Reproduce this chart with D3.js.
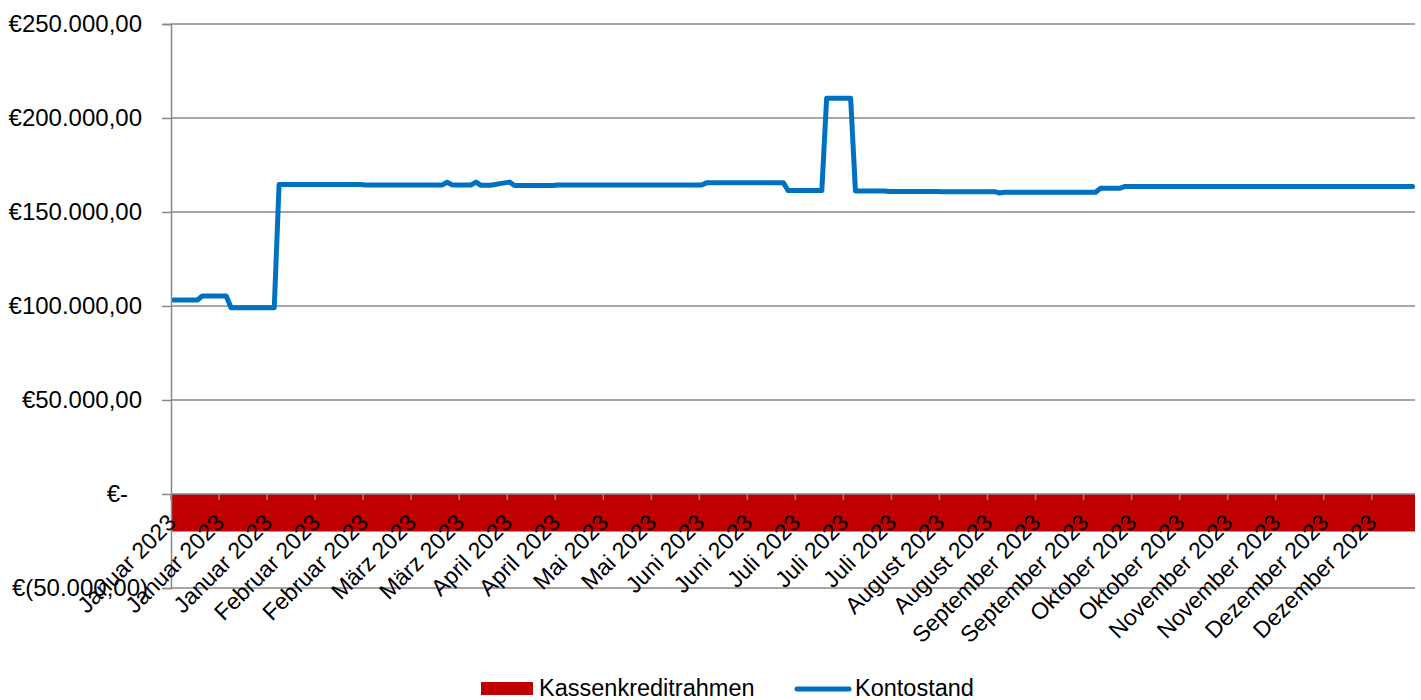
<html>
<head>
    <meta charset="utf-8">
    <title>Kontostand 2023</title>
    <script src="https://cdn.jsdelivr.net/npm/d3@7"></script>
</head>
<style>
    html, body {
        margin: 0;
        padding: 0;
        background: #fff;
    }
    svg text {
        font-family: "Liberation Sans", Arial, sans-serif;
        fill: #000;
    }
</style>
<body>
    <svg width="1421" height="700" id="mainsvg"></svg>
    <script>
        // daily account balance (one row = 10 categories, i.e. one labelled tick)
        const kontostand = [
            103200, 103200, 103200, 103200, 103200, 103200, 105300, 105300, 105300, 105300,
            105300, 105300, 99100, 99100, 99100, 99100, 99100, 99100, 99100, 99100,
            99100, 99100, 164600, 164600, 164600, 164600, 164600, 164600, 164600, 164600,
            164600, 164600, 164600, 164600, 164600, 164600, 164600, 164600, 164600, 164600,
            164400, 164400, 164400, 164400, 164400, 164400, 164400, 164400, 164400, 164400,
            164400, 164400, 164400, 164400, 164400, 164400, 164400, 165800, 164400, 164400,
            164400, 164400, 164400, 165900, 164200, 164200, 164200, 164600, 165100, 165500,
            165900, 164100, 164100, 164100, 164100, 164100, 164100, 164100, 164100, 164100,
            164400, 164400, 164400, 164400, 164400, 164400, 164400, 164400, 164400, 164400,
            164400, 164400, 164400, 164400, 164400, 164400, 164400, 164400, 164400, 164400,
            164400, 164400, 164400, 164400, 164400, 164400, 164400, 164400, 164400, 164400,
            164400, 165500, 165500, 165500, 165500, 165500, 165500, 165500, 165500, 165500,
            165500, 165500, 165500, 165500, 165500, 165500, 165500, 165500, 161400, 161400,
            161400, 161400, 161400, 161400, 161400, 161400, 210500, 210500, 210500, 210500,
            210500, 210500, 161200, 161200, 161200, 161200, 161200, 161200, 161200, 160900,
            160900, 160900, 160900, 160900, 160900, 160900, 160900, 160900, 160900, 160900,
            160800, 160800, 160800, 160800, 160800, 160800, 160800, 160800, 160800, 160800,
            160800, 160800, 160100, 160500, 160500, 160500, 160500, 160500, 160500, 160500,
            160500, 160500, 160500, 160500, 160500, 160500, 160500, 160500, 160500, 160500,
            160500, 160500, 160500, 162600, 162600, 162600, 162600, 162600, 163500, 163500,
            163500, 163500, 163500, 163500, 163500, 163500, 163500, 163500, 163500, 163500,
            163500, 163500, 163500, 163500, 163500, 163500, 163500, 163500, 163500, 163500,
            163500, 163500, 163500, 163500, 163500, 163500, 163500, 163500, 163500, 163500,
            163500, 163500, 163500, 163500, 163500, 163500, 163500, 163500, 163500, 163500,
            163500, 163500, 163500, 163500, 163500, 163500, 163500, 163500, 163500, 163500,
            163500, 163500, 163500, 163500, 163500, 163500, 163500, 163500, 163500
        ];
        // credit line, constant over the year
        const kassenkreditrahmen = -20000;
        const categories = d3.range(kontostand.length);
        const tickEvery = 10;
        const tickLabels = [
            "Januar 2023", "Januar 2023", "Januar 2023", "Februar 2023", "Februar 2023",
            "März 2023", "März 2023", "April 2023", "April 2023", "Mai 2023", "Mai 2023",
            "Juni 2023", "Juni 2023", "Juli 2023", "Juli 2023", "Juli 2023",
            "August 2023", "August 2023", "September 2023", "September 2023",
            "Oktober 2023", "Oktober 2023", "November 2023", "November 2023",
            "Dezember 2023", "Dezember 2023"
        ];
        const yTicks = [-50000, 0, 50000, 100000, 150000, 200000, 250000];
        const seriesNames = ["Kassenkreditrahmen", "Kontostand"];

        const svg = d3.select('#mainsvg');
        const plot = {left: 171, right: 1415, top: 24, bottom: 588};
        const gridColor = '#898989';
        const lineColor = '#0070C0';
        const areaColor = '#C00000';

        const xScale = d3.scaleBand().domain(categories).range([plot.left, plot.right]).paddingInner(0).paddingOuter(0);
        const bw = xScale.bandwidth();
        const yScale = d3.scaleLinear().domain([-50000, 250000]).range([plot.bottom, plot.top]);

        const de = d3.formatLocale({decimal: ",", thousands: ".", grouping: [3], currency: ["€", ""]});
        const fmt = de.format("$,.2f");
        const yFormat = v => v === 0 ? "€-" : (v < 0 ? "€(" + fmt(-v).slice(1) + ")" : fmt(v));

        // gridlines
        svg.append('g').selectAll('line').data(yTicks.filter(v => v !== 0)).join('line')
            .attr('x1', plot.left).attr('x2', plot.right)
            .attr('y1', d => yScale(d)).attr('y2', d => yScale(d))
            .attr('stroke', gridColor).attr('stroke-width', 1.5);

        // credit line as area below zero
        const areaPts = [];
        categories.forEach(i => {
            areaPts.push({x: xScale(i), v: kassenkreditrahmen});
            areaPts.push({x: xScale(i) + bw, v: kassenkreditrahmen});
        });
        const area = d3.area().x(d => d.x).y0(yScale(0)).y1(d => yScale(d.v));
        svg.append('path').datum(areaPts).attr('d', area).attr('fill', areaColor);

        // x axis at zero with tick marks at category boundaries
        const xAxis = svg.append('g');
        xAxis.append('line').attr('x1', plot.left).attr('x2', plot.right)
            .attr('y1', yScale(0)).attr('y2', yScale(0))
            .attr('stroke', gridColor).attr('stroke-width', 1.5);
        const tickCats = categories.filter(i => i % tickEvery === 0);
        xAxis.selectAll('line.tick').data(tickCats).join('line').attr('class', 'tick')
            .attr('x1', d => xScale(d)).attr('x2', d => xScale(d))
            .attr('y1', yScale(0)).attr('y2', yScale(0) + 6)
            .attr('stroke', gridColor).attr('stroke-width', 1.5);

        // balance line
        const line = d3.line().x(i => xScale(i) + bw / 2).y(i => yScale(kontostand[i]));
        svg.append('path').datum(categories).attr('d', line)
            .attr('fill', 'none').attr('stroke', lineColor).attr('stroke-width', 5)
            .attr('stroke-linejoin', 'round').attr('stroke-linecap', 'round');

        // y axis
        const yAxisGroup = svg.append('g').attr('transform', `translate(${plot.left},0)`)
            .call(d3.axisLeft(yScale).tickValues(yTicks).tickFormat(yFormat).tickSize(9).tickPadding(21));
        yAxisGroup.select('.domain').attr('stroke', gridColor).attr('stroke-width', 1.5);
        yAxisGroup.selectAll('.tick line').attr('stroke', gridColor).attr('stroke-width', 1.5);
        yAxisGroup.selectAll('.tick text')
            .attr('font-size', 24)
            .attr('font-family', '"Liberation Sans", Arial, sans-serif')
            .attr('x', d => d === 0 ? -43 : (d < 0 ? -23 : -29));

        // x labels, rotated
        svg.append('g').selectAll('text').data(tickCats).join('text')
            .attr('transform', d => `translate(${xScale(d) + bw / 2 + 4}, 524) rotate(-45)`)
            .attr('text-anchor', 'end')
            .attr('font-size', 23)
            .text((d, k) => tickLabels[k]);

        // legend
        const legend = svg.append('g');
        legend.append('rect').attr('x', 481).attr('y', 682).attr('width', 52).attr('height', 13).attr('fill', areaColor);
        legend.append('text').attr('x', 539).attr('y', 696).attr('font-size', 23.5).text(seriesNames[0]);
        legend.append('line').attr('x1', 797).attr('x2', 849).attr('y1', 689).attr('y2', 689)
            .attr('stroke', lineColor).attr('stroke-width', 5).attr('stroke-linecap', 'round');
        legend.append('text').attr('x', 855).attr('y', 696).attr('font-size', 23.5).text(seriesNames[1]);
    </script>
</body>
</html>
